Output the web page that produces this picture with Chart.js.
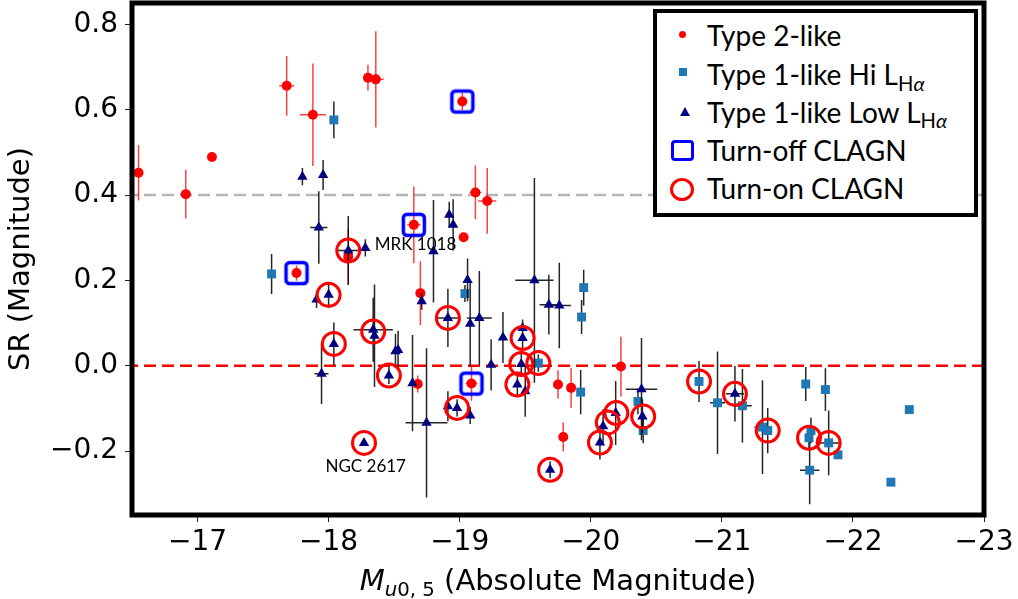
<!DOCTYPE html>
<html>
<head>
<meta charset="utf-8">
<script src="https://cdn.jsdelivr.net/npm/chart.js@4.4.1/dist/chart.umd.min.js"></script>
<style>
html,body{margin:0;padding:0;background:#fff;overflow:hidden;}
#wrap{position:relative;width:1018px;height:599px;}
#c{position:absolute;left:0;top:0;}
#legend{position:absolute;left:653px;top:9px;width:325px;height:208px;box-sizing:border-box;border:4px solid #000;background:#fff;font-family:Lato,'Noto Sans',sans-serif;font-size:28px;color:#000;}
.row{position:absolute;left:0;width:100%;height:38px;line-height:38px;white-space:nowrap;}
.tx{position:absolute;left:50px;top:0;}
.mk{position:absolute;box-sizing:border-box;}
sub{font-size:72%;position:relative;top:0.28em;vertical-align:baseline;line-height:0;}
#xtitle{position:absolute;left:132px;width:852px;top:562px;height:36px;line-height:36px;text-align:center;font-family:'DejaVu Sans';font-size:29px;color:#000;white-space:nowrap;}
#xtitle sub{font-size:68%;top:0.3em;}
</style>
</head>
<body>
<div id="wrap">
<canvas id="c" width="1018" height="599"></canvas>
<div id="legend">
  <div class="row" style="top:2.7px"><span class="mk" style="left:22px;top:15.5px;width:7px;height:7px;border-radius:50%;background:#ff0000"></span><span class="tx" id="lg0"></span></div>
  <div class="row" style="top:42px"><span class="mk" style="left:21.5px;top:13px;width:8px;height:8px;background:#1f77b4"></span><span class="tx" id="lg1"></span></div>
  <div class="row" style="top:79.7px"><span class="mk" style="left:23px;top:14.5px;width:0;height:0;border-left:5px solid transparent;border-right:5px solid transparent;border-bottom:9px solid #000080"></span><span class="tx" id="lg2"></span></div>
  <div class="row" style="top:118px"><span class="mk" style="left:13.5px;top:8.5px;width:23px;height:21px;border:3.5px solid #0000ff;border-radius:4px"></span><span class="tx" id="lg3"></span></div>
  <div class="row" style="top:156px"><span class="mk" style="left:12.5px;top:8.5px;width:24px;height:23px;border:3px solid #ff0000;border-radius:50%"></span><span class="tx" id="lg4"></span></div>
</div>
<div id="xtitle"><i>M</i><sub><i>u</i>0, 5</sub> (Absolute Magnitude)</div>
</div>
<script>
// ---- data ----
const xTicks = [-17, -18, -19, -20, -21, -22, -23];
const yTicks = [-0.2, 0.0, 0.2, 0.4, 0.6, 0.8];
const refLineY = [0.4, 0.0];

const legendLabels = [
  'Type 2-like',
  'Type 1-like Hi L<sub>H<i>α</i></sub>',
  'Type 1-like Low L<sub>H<i>α</i></sub>',
  'Turn-off CLAGN',
  'Turn-on CLAGN'
];

// Type 2-like
const t2X  = [-16.55,-16.91,-17.11,-17.68,-17.88,-18.30,-18.36,-18.65,-19.02,-19.12,-19.21,-19.03,-17.755,-18.15,-18.70,-18.68,-19.09,-19.75,-19.85,-20.23,-19.79];
const t2Y  = [0.452,0.402,0.489,0.656,0.588,0.675,0.671,0.330,0.619,0.406,0.386,0.301,0.217,0.256,0.170,-0.043,-0.042,-0.044,-0.052,-0.002,-0.167];
const t2Ex = [0.03,0.04,0,0.057,0.10,0,0.06,0.05,0,0.045,0.07,0,0,0,0,0,0.045,0,0,0,0];
const t2Ey = [0.065,0.057,0,0.07,0.12,0.03,0.113,0.09,0.02,0.063,0.077,0,0.018,0.065,0.075,0.02,0.04,0.033,0.047,0.07,0.034];

// Type 1-like Hi L_Halpha
const hiX  = [-18.04,-17.565,-19.04,-19.946,-19.93,-19.60,-19.923,-20.36,-20.40,-20.826,-20.967,-21.157,-21.31,-21.35,-21.64,-21.79,-21.665,-21.68,-21.67,-21.815,-21.886,-22.29,-22.43];
const hiY  = [0.576,0.215,0.169,0.183,0.114,0.006,-0.062,-0.084,-0.152,-0.037,-0.087,-0.094,-0.144,-0.152,-0.043,-0.056,-0.169,-0.152,-0.245,-0.181,-0.209,-0.273,-0.103];
const hiEx = [0,0.02,0,0,0,0,0,0,0,0,0.057,0.07,0.06,0,0,0,0,0,0.074,0.095,0,0,0];
const hiEy = [0.043,0.047,0.02,0.042,0.04,0.02,0.052,0.03,0.03,0.048,0.12,0.086,0.11,0.053,0.04,0.05,0.03,0.03,0.08,0.076,0,0,0];

// Type 1-like Low L_Halpha
const loX  = [-17.80,-17.958,-17.925,-18.15,-18.28,-17.908,-18.0,-18.04,-17.946,-18.34,-18.35,-18.46,-18.53,-18.51,-18.64,-18.747,-18.27,-18.80,-18.92,-18.95,-19.06,-18.71,-18.91,-19.08,-19.15,-19.24,-19.33,-19.57,-19.68,-19.76,-19.48,-19.48,-19.47,-19.44,-19.50,-18.91,-18.98,-19.08,-19.69,-20.07,-20.094,-20.19,-20.387,-20.394,-21.10];
const loY  = [0.443,0.447,0.324,0.270,0.276,0.155,0.166,0.051,-0.019,0.084,0.070,-0.023,0.037,0.034,-0.041,-0.134,-0.181,0.268,0.354,0.330,0.201,0.151,0.112,0.098,0.112,0.002,0.066,0.200,0.143,0.141,0.065,0.088,0.004,-0.044,-0.060,-0.095,-0.099,-0.117,-0.244,-0.180,-0.142,-0.111,-0.055,-0.119,-0.066];
const loEx = [0,0,0.066,0.09,0,0,0,0,0.053,0.15,0,0,0,0,0,0.16,0,0,0,0,0,0,0.076,0,0.095,0,0,0.146,0.07,0.09,0,0,0,0,0,0,0,0,0,0,0,0,0.12,0,0.07];
const loEy = [0.02,0.035,0.085,0.081,0.02,0.02,0.03,0.05,0.071,0.075,0.12,0.02,0.045,0.04,0.113,0.175,0,0.12,0.03,0.06,0.05,0.02,0.068,0.1,0.11,0.06,0.06,0.24,0.07,0.1,0.03,0.02,0.03,0.03,0.06,0.035,0.02,0.02,0.02,0.04,0.04,0.075,0.12,0.04,0.065];

// Turn-off CLAGN
const offX = [-17.755,-18.65,-19.02,-19.09];
const offY = [0.217,0.330,0.619,-0.042];

// Turn-on CLAGN
const onX = [-18.15,-18.0,-18.04,-18.34,-18.46,-18.27,-18.91,-18.98,-19.48,-19.47,-19.60,-19.44,-19.69,-20.07,-20.13,-20.195,-20.40,-20.826,-21.10,-21.35,-21.665,-21.815];
const onY = [0.270,0.166,0.051,0.080,-0.023,-0.181,0.112,-0.099,0.065,0.004,0.006,-0.044,-0.244,-0.180,-0.133,-0.111,-0.119,-0.037,-0.066,-0.152,-0.169,-0.181];

// labels
const annText = ['MRK 1018', 'NGC 2617'];
const annX = [-18.352, -18.283];
const annY = [0.283, -0.2365];
const annAlign = ['left', 'center'];

// ---- build ----
legendLabels.forEach((t, i) => { document.getElementById('lg' + i).innerHTML = t; });

const pts = (xs, ys) => xs.map((x, i) => ({x: x, y: ys[i]}));
function errSegs(xs, ys, exs, eys) {
  const out = [];
  xs.forEach((x, i) => {
    if (eys[i] > 0) out.push({x: x, y: ys[i] - eys[i]}, {x: x, y: ys[i] + eys[i]}, {x: x, y: null});
    if (exs[i] > 0) out.push({x: x - exs[i], y: ys[i]}, {x: x + exs[i], y: ys[i]}, {x: x, y: null});
  });
  return out;
}
function roundedSquare() {
  const c = document.createElement('canvas');
  c.width = 28; c.height = 28;
  const g = c.getContext('2d');
  g.strokeStyle = '#0000ff'; g.lineWidth = 3.5;
  g.beginPath();
  if (g.roundRect) g.roundRect(3.5, 3.5, 21, 21, 3.5); else g.rect(3.5, 3.5, 21, 21);
  g.stroke();
  return c;
}
const fmt = v => {
  const s = (Math.abs(v) < 1e-9 ? 0 : v);
  return s.toString().replace('-', '\u2212');
};
const fmtY = v => {
  const s = (Math.abs(v) < 1e-9 ? 0 : v).toFixed(1);
  return s.replace('-', '\u2212');
};

const xMin = -23, xMax = -16.5;
const errLine = (data, color, order) => ({type: 'scatter', data: data, showLine: true, spanGaps: false, pointRadius: 0, borderColor: color, borderWidth: 1.5, order: order});

const framePlugin = {
  id: 'frameAndNotes',
  afterDatasetsDraw(chart) {
    const {ctx, chartArea: a, scales} = chart;
    ctx.save();
    ctx.fillStyle = '#000';
    ctx.font = '17px Lato';
    ctx.textBaseline = 'middle';
    annText.forEach((t, i) => {
      ctx.textAlign = annAlign[i];
      ctx.fillText(t, scales.x.getPixelForValue(annX[i]), scales.y.getPixelForValue(annY[i]));
    });
    ctx.lineWidth = 5;
    ctx.strokeStyle = '#000';
    ctx.strokeRect(a.left, a.top, a.right - a.left, a.bottom - a.top);
    ctx.restore();
  }
};

new Chart(document.getElementById('c'), {
  type: 'scatter',
  data: {
    datasets: [
      {data: [{x: xMin, y: refLineY[0]}, {x: xMax, y: refLineY[0]}], showLine: true, pointRadius: 0, borderColor: '#b3b3b3', borderWidth: 2.5, borderDash: [12, 6], order: 20},
      {data: [{x: xMin, y: refLineY[1]}, {x: xMax, y: refLineY[1]}], showLine: true, pointRadius: 0, borderColor: '#ff0000', borderWidth: 2.5, borderDash: [12, 6], order: 19},
      errLine(errSegs(t2X, t2Y, t2Ex, t2Ey), 'rgba(255,0,0,0.75)', 10),
      {data: pts(t2X, t2Y), pointStyle: 'circle', pointRadius: 5, backgroundColor: '#ff0000', borderColor: '#ff0000', borderWidth: 0, order: 9},
      errLine(errSegs(hiX, hiY, hiEx, hiEy), 'rgba(0,0,0,0.85)', 8),
      {data: pts(hiX, hiY), pointStyle: 'rect', pointRadius: 6.3, backgroundColor: '#1f77b4', borderColor: '#1f77b4', borderWidth: 0, order: 7},
      errLine(errSegs(loX, loY, loEx, loEy), 'rgba(0,0,0,0.85)', 6),
      {data: pts(loX, loY), pointStyle: 'triangle', pointRadius: 6, backgroundColor: '#000080', borderColor: '#000080', borderWidth: 0, order: 5},
      {data: pts(offX, offY), pointStyle: roundedSquare(), pointRadius: 12, order: 2},
      {data: pts(onX, onY), pointStyle: 'circle', pointRadius: 11.5, backgroundColor: 'rgba(0,0,0,0)', borderColor: '#ff0000', borderWidth: 3, order: 1}
    ]
  },
  options: {
    responsive: false,
    animation: false,
    devicePixelRatio: 1,
    events: [],
    layout: {autoPadding: false, padding: {left: 0, right: 34, top: 3, bottom: 0}},
    plugins: {legend: {display: false}, tooltip: {enabled: false}},
    scales: {
      x: {
        type: 'linear', min: xMin, max: xMax, reverse: true,
        afterBuildTicks: s => { s.ticks = xTicks.map(v => ({value: v})); },
        afterFit: s => { s.height = 84; s.paddingLeft = 0; s.paddingRight = 0; },
        ticks: {callback: fmt, font: {family: 'DejaVu Sans', size: 28}, color: '#000', padding: 4, maxRotation: 0, autoSkip: false},
        grid: {display: true, drawOnChartArea: false, drawTicks: true, tickLength: 7, color: '#222', lineWidth: 1},
        border: {display: false}
      },
      y: {
        type: 'linear', min: -0.35, max: 0.85,
        afterBuildTicks: s => { s.ticks = yTicks.map(v => ({value: v})); },
        afterFit: s => { s.width = 132; s.paddingTop = 0; s.paddingBottom = 0; },
        ticks: {callback: fmtY, font: {family: 'DejaVu Sans', size: 28}, color: '#000', padding: 7, autoSkip: false},
        grid: {display: true, drawOnChartArea: false, drawTicks: true, tickLength: 7, color: '#222', lineWidth: 1},
        border: {display: false},
        title: {display: true, text: 'SR (Magnitude)', font: {family: 'DejaVu Sans', size: 29}, color: '#000', padding: {top: 4, bottom: 0}}
      }
    }
  },
  plugins: [framePlugin]
});
</script>
</body>
</html>
